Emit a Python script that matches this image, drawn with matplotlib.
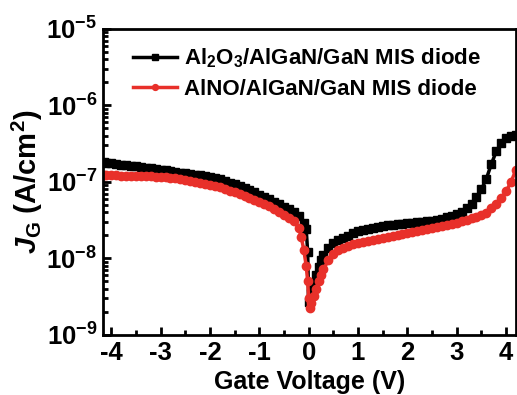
import matplotlib
matplotlib.use("Agg")
import matplotlib.pyplot as plt
from matplotlib.ticker import LogLocator, MultipleLocator, NullFormatter

# Al2O3/AlGaN/GaN MIS diode (black squares)
v_al2o3 = [-4.15, -4.1, -4.0, -3.9, -3.8, -3.7, -3.6, -3.5, -3.4, -3.3, -3.2, -3.1,
           -3.0, -2.9, -2.8, -2.7, -2.6, -2.5, -2.4, -2.3, -2.2, -2.1, -2.0, -1.9,
           -1.8, -1.7, -1.6, -1.5, -1.4, -1.3, -1.2, -1.1, -1.0, -0.9, -0.8, -0.7,
           -0.6, -0.5, -0.4, -0.3, -0.2, -0.1, -0.05, -0.02, 0.0, 0.05, 0.1, 0.15,
           0.2, 0.25, 0.3, 0.4, 0.5, 0.6, 0.7, 0.8, 0.9, 1.0, 1.1, 1.2, 1.3, 1.4,
           1.5, 1.6, 1.7, 1.8, 1.9, 2.0, 2.1, 2.2, 2.3, 2.4, 2.5, 2.6, 2.7, 2.8,
           2.9, 3.0, 3.1, 3.2, 3.3, 3.4, 3.5, 3.6, 3.7, 3.8, 3.9, 4.0, 4.1, 4.2]
j_al2o3 = [1.80e-7, 1.78e-7, 1.75e-7, 1.72e-7, 1.68e-7, 1.65e-7, 1.62e-7, 1.59e-7,
           1.56e-7, 1.53e-7, 1.50e-7, 1.47e-7, 1.44e-7, 1.41e-7, 1.38e-7, 1.35e-7,
           1.32e-7, 1.30e-7, 1.27e-7, 1.24e-7, 1.22e-7, 1.19e-7, 1.17e-7, 1.12e-7,
           1.08e-7, 1.03e-7, 9.8e-8, 9.3e-8, 8.8e-8, 8.3e-8, 7.8e-8, 7.3e-8,
           6.8e-8, 6.3e-8, 5.9e-8, 5.5e-8, 5.1e-8, 4.75e-8, 4.4e-8, 4.0e-8,
           3.6e-8, 2.9e-8, 2.4e-8, 1.2e-8, 2.7e-9, 3.5e-9, 4.5e-9, 6.0e-9,
           7.8e-9, 9.4e-9, 1.1e-8, 1.38e-8, 1.58e-8, 1.72e-8, 1.85e-8, 1.98e-8,
           2.12e-8, 2.25e-8, 2.35e-8, 2.45e-8, 2.53e-8, 2.6e-8, 2.66e-8, 2.72e-8,
           2.77e-8, 2.82e-8, 2.86e-8, 2.9e-8, 2.93e-8, 2.97e-8, 3.0e-8, 3.05e-8,
           3.12e-8, 3.2e-8, 3.32e-8, 3.45e-8, 3.6e-8, 3.75e-8, 4.1e-8, 4.5e-8,
           5.2e-8, 6.3e-8, 8.0e-8, 1.1e-7, 1.7e-7, 2.5e-7, 3.2e-7, 3.7e-7,
           4.0e-7, 4.1e-7]

# AlNO/AlGaN/GaN MIS diode (red circles)
v_alno = [-4.15, -4.1, -4.0, -3.9, -3.8, -3.7, -3.6, -3.5, -3.4, -3.3, -3.2, -3.1,
          -3.0, -2.9, -2.8, -2.7, -2.6, -2.5, -2.4, -2.3, -2.2, -2.1, -2.0, -1.9,
          -1.8, -1.7, -1.6, -1.5, -1.4, -1.3, -1.2, -1.1, -1.0, -0.9, -0.8, -0.7,
          -0.6, -0.5, -0.4, -0.3, -0.2, -0.15, -0.1, -0.05, -0.02, 0.0, 0.02, 0.05,
          0.1, 0.15, 0.2, 0.25, 0.3, 0.4, 0.5, 0.6, 0.7, 0.8, 0.9, 1.0, 1.1, 1.2,
          1.3, 1.4, 1.5, 1.6, 1.7, 1.8, 1.9, 2.0, 2.1, 2.2, 2.3, 2.4, 2.5, 2.6,
          2.7, 2.8, 2.9, 3.0, 3.1, 3.2, 3.3, 3.4, 3.5, 3.6, 3.7, 3.8, 3.9, 4.0,
          4.1, 4.2]
j_alno = [1.23e-7, 1.23e-7, 1.22e-7, 1.22e-7, 1.21e-7, 1.21e-7, 1.20e-7, 1.20e-7,
          1.19e-7, 1.18e-7, 1.18e-7, 1.17e-7, 1.16e-7, 1.15e-7, 1.13e-7, 1.11e-7,
          1.08e-7, 1.06e-7, 1.03e-7, 1.00e-7, 9.7e-8, 9.4e-8, 9.1e-8, 8.8e-8,
          8.5e-8, 8.1e-8, 7.7e-8, 7.3e-8, 7.0e-8, 6.6e-8, 6.2e-8, 5.85e-8,
          5.5e-8, 5.2e-8, 4.8e-8, 4.45e-8, 4.1e-8, 3.7e-8, 3.4e-8, 3.05e-8,
          2.5e-8, 1.9e-8, 1.3e-8, 8.0e-9, 5.0e-9, 3.0e-9, 2.24e-9, 2.6e-9,
          3.2e-9, 4.0e-9, 5.0e-9, 6.1e-9, 7.2e-9, 9.5e-9, 1.15e-8, 1.28e-8,
          1.38e-8, 1.47e-8, 1.54e-8, 1.6e-8, 1.65e-8, 1.7e-8, 1.75e-8, 1.8e-8,
          1.85e-8, 1.9e-8, 1.96e-8, 2.02e-8, 2.08e-8, 2.15e-8, 2.22e-8, 2.28e-8,
          2.35e-8, 2.42e-8, 2.48e-8, 2.55e-8, 2.62e-8, 2.7e-8, 2.8e-8, 2.9e-8,
          3.05e-8, 3.2e-8, 3.35e-8, 3.5e-8, 3.65e-8, 3.95e-8, 4.5e-8, 5.2e-8,
          6.1e-8, 7.5e-8, 1.0e-7, 1.44e-7]

y_ticks = [1e-9, 1e-8, 1e-7, 1e-6, 1e-5]

plt.rcParams['font.family'] = 'Liberation Sans'
plt.rcParams['font.weight'] = 'bold'
plt.rcParams['axes.labelweight'] = 'bold'
plt.rcParams['axes.unicode_minus'] = False
plt.rcParams['mathtext.fontset'] = 'custom'
plt.rcParams['mathtext.rm'] = 'Liberation Sans:bold'
plt.rcParams['mathtext.it'] = 'Liberation Sans:italic:bold'
plt.rcParams['mathtext.bf'] = 'Liberation Sans:bold'

red = '#e8302a'

fig = plt.figure(figsize=(5.17, 3.95), dpi=100)
ax = fig.add_axes([0.199, 0.152, 0.799, 0.775])

ax.plot(v_al2o3, j_al2o3, color='black', marker='s', markersize=6, lw=2.5,
        label='Al$_2$O$_3$/AlGaN/GaN MIS diode')
ax.plot(v_alno, j_alno, color=red, marker='o', markersize=6, lw=2.5,
        label='AlNO/AlGaN/GaN MIS diode')

ax.set_yscale('log')
ax.set_yticks(y_ticks)
ax.set_xlim(-4.17, 4.2)
ax.set_ylim(1e-9, 1e-5)

ax.xaxis.set_major_locator(MultipleLocator(1))
ax.xaxis.set_minor_locator(MultipleLocator(0.5))
ax.yaxis.set_minor_locator(LogLocator(base=10, subs=range(2, 10), numticks=10))
ax.yaxis.set_minor_formatter(NullFormatter())

ax.tick_params(which='both', direction='in', top=False, right=False, width=2)
ax.tick_params(which='major', length=6, labelsize=18.5, pad=4)
ax.tick_params(which='minor', length=3.5)
for s in ax.spines.values():
    s.set_linewidth(2)

ax.set_xlabel('Gate Voltage (V)', fontsize=18, labelpad=4)
ax.set_ylabel(r'$\mathit{J}_{\mathrm{G}}$ (A/cm$^{\mathrm{2}}$)', fontsize=21, labelpad=1)

ax.legend(loc='upper left', frameon=False, fontsize=16, handlelength=2.0,
          handletextpad=0.3, borderaxespad=0.4, labelspacing=0.4,
          markerscale=0.7, bbox_to_anchor=(0.03, 1.0))

fig.savefig('out.png', dpi=100)
